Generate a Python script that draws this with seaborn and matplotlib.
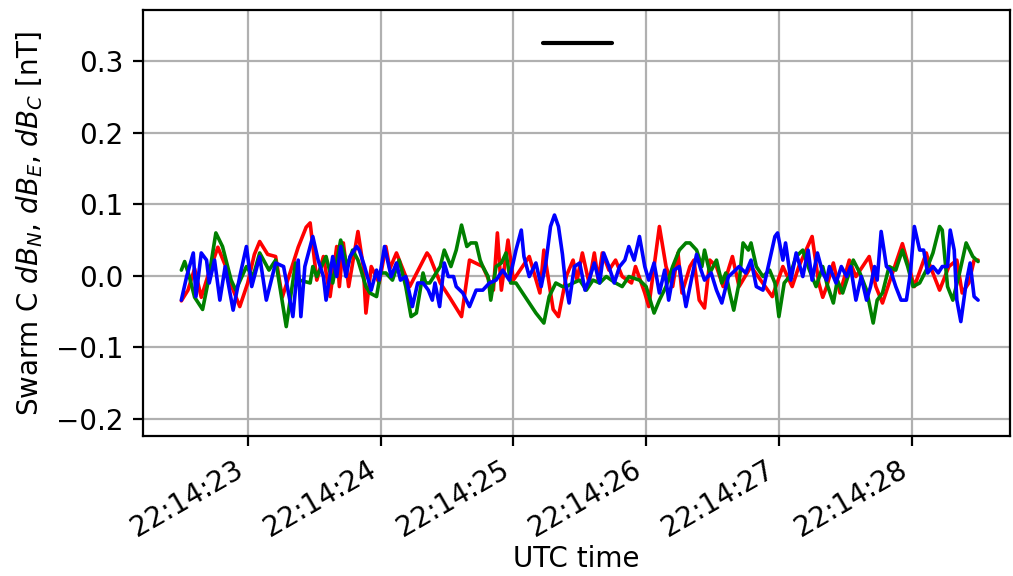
import numpy as np
import pandas as pd
import matplotlib
matplotlib.use("Agg")
import matplotlib.pyplot as plt
import matplotlib.dates as mdates
import seaborn as sns

# Seconds after 22:14:00 UTC and magnetic perturbations in nT
t_north = [22.50, 22.55, 22.60, 22.65, 22.70, 22.775, 22.83, 22.88, 22.94, 23.00, 23.05, 23.09,
           23.15, 23.21, 23.26, 23.32, 23.38, 23.44, 23.47, 23.52, 23.57, 23.62, 23.67, 23.69,
           23.72, 23.76, 23.83, 23.87, 23.89, 23.93, 23.99, 24.04, 24.07, 24.12, 24.22, 24.35,
           24.37, 24.45, 24.52, 24.61, 24.67, 24.77, 24.85, 24.88, 24.91, 24.96, 25.00, 25.12,
           25.20, 25.23, 25.30, 25.34, 25.40, 25.45, 25.48, 25.52, 25.57, 25.61, 25.64, 25.67,
           25.72, 25.77, 25.82, 25.89, 25.92, 25.99, 26.02, 26.10, 26.15, 26.20, 26.24, 26.27,
           26.33, 26.36, 26.40, 26.44, 26.48, 26.53, 26.58, 26.65, 26.70, 26.79, 26.95, 27.03,
           27.10, 27.15, 27.25, 27.30, 27.33, 27.36, 27.41, 27.46, 27.53, 27.58, 27.68, 27.73,
           27.78, 27.83, 27.93, 28.02, 28.11, 28.13, 28.21, 28.28, 28.34, 28.38, 28.43, 28.47,
           28.50]
db_north = [-0.035, -0.020, 0.010, -0.030, 0.000, 0.040, 0.015, -0.015, -0.043, -0.010, 0.030, 0.048,
            0.030, 0.027, -0.030, 0.005, 0.040, 0.068, 0.074, -0.006, 0.027, -0.029, 0.041, -0.015,
            0.046, -0.015, 0.062, 0.013, -0.052, 0.013, -0.010, 0.041, 0.010, 0.032, -0.015, 0.032,
            0.027, -0.010, -0.030, -0.057, 0.022, 0.013, -0.020, 0.060, -0.020, 0.050, -0.006, 0.027,
            -0.024, 0.036, -0.047, -0.057, 0.000, 0.022, -0.006, 0.032, -0.010, 0.032, -0.006, 0.032,
            0.008, 0.022, -0.001, -0.010, 0.013, -0.024, -0.043, 0.069, 0.013, -0.015, 0.032, -0.024,
            0.013, 0.022, -0.034, -0.045, 0.022, 0.013, -0.015, 0.027, -0.015, 0.013, -0.029, 0.013,
            -0.015, 0.013, 0.055, -0.010, -0.030, -0.015, 0.018, -0.024, 0.022, -0.001, 0.027, -0.015,
            -0.038, -0.010, 0.045, -0.015, 0.032, 0.018, -0.020, 0.013, 0.022, -0.024, -0.010, 0.022,
            0.022]

t_east = [22.50, 22.525, 22.56, 22.60, 22.66, 22.70, 22.76, 22.81, 22.875, 22.91, 22.99, 23.04,
          23.09, 23.16, 23.21, 23.29, 23.36, 23.39, 23.47, 23.49, 23.52, 23.59, 23.64, 23.70,
          23.75, 23.79, 23.83, 23.89, 23.92, 23.97, 24.00, 24.04, 24.09, 24.14, 24.19, 24.23,
          24.27, 24.32, 24.34, 24.37, 24.45, 24.48, 24.53, 24.57, 24.61, 24.65, 24.68, 24.72,
          24.75, 24.77, 24.81, 24.83, 24.87, 24.91, 24.945, 24.98, 25.02, 25.07, 25.12, 25.17,
          25.23, 25.27, 25.32, 25.37, 25.40, 25.45, 25.50, 25.55, 25.60, 25.65, 25.70, 25.77,
          25.82, 25.87, 25.95, 26.00, 26.06, 26.10, 26.15, 26.20, 26.25, 26.30, 26.33, 26.38,
          26.42, 26.44, 26.48, 26.53, 26.57, 26.60, 26.63, 26.66, 26.70, 26.73, 26.77, 26.79,
          26.83, 26.88, 26.93, 26.97, 27.00, 27.04, 27.08, 27.13, 27.18, 27.23, 27.28, 27.33,
          27.36, 27.41, 27.44, 27.48, 27.56, 27.61, 27.66, 27.71, 27.74, 27.78, 27.83, 27.88,
          27.93, 27.97, 28.01, 28.06, 28.11, 28.16, 28.21, 28.23, 28.27, 28.31, 28.36, 28.41,
          28.46, 28.50]
db_east = [0.008, 0.020, -0.001, -0.030, -0.047, -0.010, 0.060, 0.041, -0.006, -0.020, 0.013, -0.001,
           0.032, 0.008, 0.022, -0.071, 0.018, -0.006, -0.010, 0.013, -0.001, 0.027, -0.010, 0.050,
           0.013, 0.036, 0.022, -0.015, -0.024, -0.029, 0.004, 0.004, -0.006, 0.022, -0.015, -0.057,
           -0.052, 0.004, -0.010, -0.010, 0.013, 0.036, 0.013, 0.036, 0.071, 0.041, 0.046, 0.046,
           0.022, 0.013, -0.001, -0.034, 0.013, 0.018, 0.032, -0.010, -0.010, -0.024, -0.038, -0.052,
           -0.066, -0.029, -0.010, -0.015, -0.015, -0.010, -0.006, -0.020, -0.006, -0.010, -0.001, -0.010,
           -0.015, -0.001, -0.006, -0.015, -0.052, -0.034, -0.015, 0.013, 0.036, 0.046, 0.046, 0.036,
           0.013, 0.036, 0.004, 0.022, -0.010, 0.004, -0.024, -0.048, -0.010, 0.046, 0.036, 0.046,
           0.013, -0.001, 0.008, -0.010, -0.057, -0.010, -0.001, 0.027, 0.036, 0.008, -0.015, 0.013,
           -0.010, -0.038, -0.006, -0.024, 0.022, 0.004, -0.020, -0.066, -0.034, -0.024, 0.013, 0.008,
           0.036, 0.013, -0.015, -0.010, 0.008, 0.032, 0.069, 0.064, -0.015, -0.034, 0.004, 0.046,
           0.027, 0.020]

t_centre = [22.50, 22.54, 22.59, 22.61, 22.65, 22.69, 22.71, 22.75, 22.79, 22.83, 22.89, 22.94,
            22.99, 23.03, 23.09, 23.14, 23.21, 23.27, 23.34, 23.38, 23.40, 23.43, 23.49, 23.53,
            23.57, 23.59, 23.64, 23.67, 23.70, 23.74, 23.77, 23.82, 23.84, 23.88, 23.93, 23.97,
            23.99, 24.03, 24.08, 24.12, 24.15, 24.19, 24.24, 24.28, 24.32, 24.36, 24.39, 24.41,
            24.445, 24.48, 24.51, 24.55, 24.57, 24.62, 24.67, 24.72, 24.77, 24.82, 24.87, 24.92,
            24.97, 25.02, 25.06, 25.08, 25.12, 25.17, 25.21, 25.245, 25.28, 25.31, 25.34, 25.37,
            25.39, 25.42, 25.46, 25.50, 25.54, 25.57, 25.61, 25.65, 25.68, 25.72, 25.76, 25.80,
            25.84, 25.87, 25.91, 25.95, 25.99, 26.02, 26.06, 26.10, 26.14, 26.17, 26.21, 26.25,
            26.30, 26.34, 26.38, 26.41, 26.44, 26.49, 26.53, 26.57, 26.62, 26.65, 26.70, 26.75,
            26.79, 26.83, 26.88, 26.93, 26.97, 26.99, 27.03, 27.05, 27.09, 27.13, 27.18, 27.22,
            27.25, 27.29, 27.33, 27.36, 27.38, 27.43, 27.47, 27.51, 27.54, 27.58, 27.62, 27.66,
            27.69, 27.72, 27.74, 27.77, 27.81, 27.84, 27.88, 27.92, 27.96, 27.99, 28.02, 28.06,
            28.09, 28.12, 28.16, 28.20, 28.23, 28.27, 28.29, 28.32, 28.34, 28.37, 28.41, 28.44,
            28.47, 28.50]
db_centre = [-0.034, -0.001, 0.032, -0.029, 0.032, 0.022, -0.010, 0.022, -0.034, 0.013, -0.048, -0.001,
             0.041, -0.015, 0.027, -0.034, 0.018, 0.013, -0.057, 0.022, -0.057, 0.013, 0.055, 0.022,
             -0.001, -0.034, 0.027, -0.001, 0.041, -0.001, 0.027, 0.041, 0.036, 0.013, -0.020, 0.008,
             -0.006, 0.041, -0.001, 0.018, -0.006, -0.001, -0.043, -0.010, -0.010, -0.020, -0.034, -0.010,
             -0.043, 0.018, -0.001, -0.001, -0.015, -0.024, -0.043, -0.020, -0.020, -0.010, -0.006, 0.008,
             -0.006, 0.036, 0.064, 0.027, -0.001, 0.018, -0.015, 0.018, 0.069, 0.085, 0.069, 0.030,
             -0.006, -0.038, 0.013, 0.018, -0.020, -0.006, 0.018, -0.010, 0.032, 0.013, -0.010, 0.013,
             0.022, 0.041, 0.022, 0.055, 0.013, -0.006, 0.018, -0.024, 0.008, -0.034, 0.008, 0.013,
             -0.043, -0.006, 0.030, 0.010, -0.006, 0.004, -0.020, -0.038, -0.001, 0.004, 0.013, 0.004,
             0.022, -0.015, -0.020, 0.022, 0.055, 0.060, 0.022, 0.046, -0.006, 0.032, -0.001, 0.036,
             -0.006, 0.032, 0.004, -0.006, 0.013, -0.010, 0.013, -0.001, 0.013, -0.034, -0.001, -0.034,
             -0.015, 0.013, -0.006, 0.062, 0.013, 0.008, -0.015, -0.034, -0.034, 0.004, 0.069, 0.036,
             0.036, 0.004, 0.013, 0.004, 0.013, 0.013, 0.064, 0.036, -0.034, -0.064, -0.010, 0.018,
             -0.029, -0.034]

# Horizontal marker segment near the top of the panel
t_marker = [25.226, 25.746]
y_marker = [0.326, 0.326]

minute_start = pd.Timestamp("2016-01-01 22:14:00")


def to_time(seconds):
    return minute_start + pd.to_timedelta(np.asarray(seconds), unit="s")


sns.set_style("ticks")
plt.rcParams["font.family"] = ["DejaVu Sans"]
plt.rcParams["font.size"] = 10
plt.rcParams["text.color"] = "black"
plt.rcParams["axes.labelcolor"] = "black"
plt.rcParams["xtick.color"] = "black"
plt.rcParams["ytick.color"] = "black"

fig = plt.figure(figsize=(5.065, 2.88), dpi=200)
ax = fig.add_axes([0.141, 0.243, 0.856, 0.740])

sns.lineplot(x=to_time(t_marker), y=y_marker, color="black", linewidth=1.5, ax=ax)
sns.lineplot(x=to_time(t_north), y=db_north, color="red", linewidth=1.3, ax=ax, estimator=None)
sns.lineplot(x=to_time(t_east), y=db_east, color="green", linewidth=1.3, ax=ax, estimator=None)
sns.lineplot(x=to_time(t_centre), y=db_centre, color="blue", linewidth=1.3, ax=ax, estimator=None)

ax.set_xlim(to_time([22.21])[0], to_time([28.74])[0])
ax.set_ylim(-0.224, 0.372)
ax.set_yticks([-0.2, -0.1, 0.0, 0.1, 0.2, 0.3])
ax.xaxis.set_major_locator(mdates.SecondLocator())
ax.xaxis.set_major_formatter(mdates.DateFormatter("%H:%M:%S"))
ax.grid(True, color="#b0b0b0", linewidth=0.8)
for spine in ax.spines.values():
    spine.set_visible(True)
    spine.set_color("black")
    spine.set_linewidth(0.8)
ax.tick_params(axis="both", labelsize=10, length=3.5, width=0.8, color="black")
plt.setp(ax.get_xticklabels(), rotation=30, ha="right")

ax.set_xlabel("UTC time", fontsize=10)
ax.set_ylabel("Swarm C $dB_N$, $dB_E$, $dB_C$ [nT]", fontsize=10)
ax.xaxis.set_label_coords(0.5, -0.255)

fig.savefig("out.png", dpi=200)
